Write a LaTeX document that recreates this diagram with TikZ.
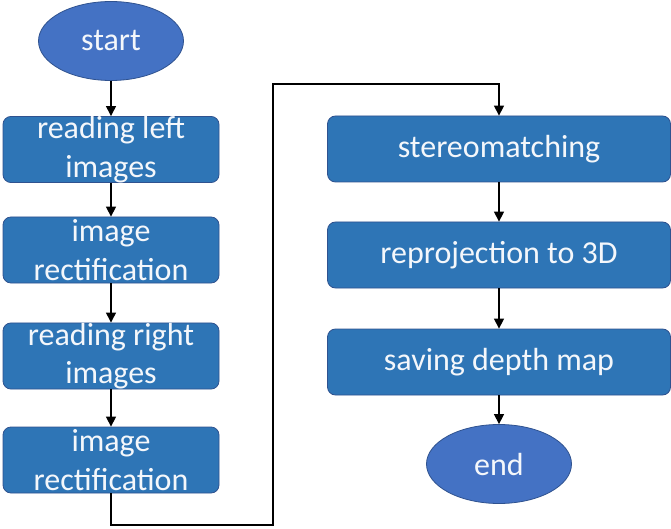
\documentclass[tikz,border=0pt]{standalone}
\usepackage{fontspec}
\setmainfont{Carlito}
\usetikzlibrary{arrows.meta,shapes.geometric}
\definecolor{boxfill}{HTML}{2E75B6}
\definecolor{ovalfill}{HTML}{4472C4}
\definecolor{rim}{HTML}{2F528F}
\definecolor{txt}{HTML}{F4F7FB}
\tikzset{
  stepbox/.style={draw=rim, line width=0.8pt, fill=boxfill, rounded corners=8pt,
    minimum width=216pt, minimum height=66pt, align=center, text=txt,
    font=\fontsize{32}{38.4}\selectfont, inner sep=0pt},
  widebox/.style={stepbox, minimum width=343pt},
  terminal/.style={ellipse, draw=rim, line width=0.8pt, fill=ovalfill,
    minimum width=145pt, minimum height=79pt, text=txt,
    font=\fontsize{32}{38.4}\selectfont, inner sep=0pt},
  flow/.style={line width=1.4pt, -{Triangle[width=10pt,length=10pt]}}
}
\begin{document}
\begin{tikzpicture}[x=1pt,y=-1pt]
\useasboundingbox (0,0) rectangle (671,529);
% left column
\node[terminal] (start) at (111,41) {start};
\node[stepbox] (readleft) at (111,149.5) {reading left\\images};
\node[stepbox] (rectleft) at (111,250) {image\\rectification};
\node[stepbox] (readright) at (111,356) {reading right\\images};
\node[stepbox] (rectright) at (111,460) {image\\rectification};
% right column
\node[widebox] (stereo) at (499,149) {stereomatching};
\node[widebox] (reproj) at (499,255) {reprojection to 3D};
\node[widebox] (depth) at (499,362) {saving depth map};
\node[terminal] (finish) at (499,464) {end};
% connectors
\coordinate (turnlow) at (273,525);
\coordinate (turnhigh) at (273,84);
\draw[flow] (start) -- (readleft);
\draw[flow] (readleft) -- (rectleft);
\draw[flow] (rectleft) -- (readright);
\draw[flow] (readright) -- (rectright);
\draw[flow] (rectright.south) |- (turnlow) -- (turnhigh) -| (stereo.north);
\draw[flow] (stereo) -- (reproj);
\draw[flow] (reproj) -- (depth);
\draw[flow] (depth) -- (finish);
\end{tikzpicture}
\end{document}
